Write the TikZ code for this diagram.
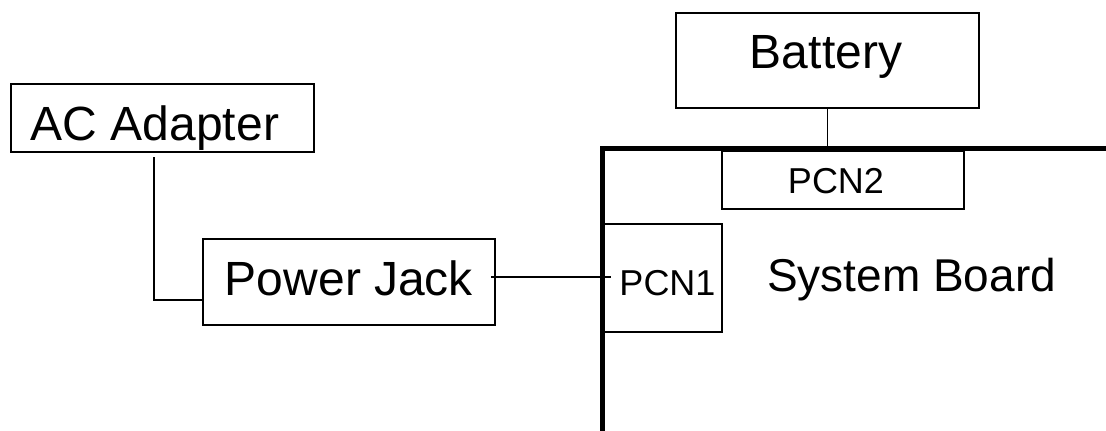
\documentclass[tikz,border=0pt]{standalone}
\usepackage{fontspec}
\setmainfont{Liberation Sans}
\usetikzlibrary{positioning}

\begin{document}
\begin{tikzpicture}[
    x=1pt, y=-1pt,
    boxnode/.style={draw, line width=1.2pt, inner sep=0pt, outer sep=0pt},
    bigtext/.style={inner sep=0pt, anchor=base, font=\fontsize{48}{56}\selectfont},
    midtext/.style={inner sep=0pt, anchor=base, font=\fontsize{46}{54}\selectfont},
    smalltext/.style={inner sep=0pt, anchor=base, font=\fontsize{36}{42}\selectfont},
    boardline/.style={line width=5pt},
    wire/.style={line width=1.2pt},
  ]
  \useasboundingbox (0,0) rectangle (1106,431);
  \node[boxnode, minimum width=303pt, minimum height=68pt]  (acadapter) at (162.5,118)  {};
  \node[bigtext]   (acadapterlabel)  at (155,140)            {AC Adapter};
  \node[boxnode, minimum width=292pt, minimum height=86pt]  (powerjack) at (349,282)    {};
  \node[bigtext]   (powerjacklabel)  at (349,295)            {Power Jack};
  \node[boxnode, minimum width=303pt, minimum height=95pt]  (battery)   at (827.5,60.5) {};
  \node[bigtext]   (batterylabel)    at (826,68)             {Battery};
  \draw[boardline] (602,440) -- (602,148) -- (1115,148);
  \coordinate      (boardcorner)     at (602,148);
  \node[boxnode, minimum width=242pt, minimum height=58pt]  (pcn2)      at (843,180)    {};
  \node[smalltext] (pcn2label)       at (836,193)            {PCN2};
  \node[boxnode, minimum width=121pt, minimum height=108pt] (pcn1)      at (661.5,278)  {};
  \node[smalltext] (pcn1label)       at (667.5,295)          {PCN1};
  \node[midtext]   (boardlabel)      at (911.5,291)          {System Board};
  \coordinate      (acfoot)          at (154,157);
  \draw[wire] (acfoot) |- ([yshift=-18pt]powerjack.west);
  \draw[wire] ([shift={(-4,-5)}]powerjack.east) -- ([shift={(10,-1)}]pcn1.west);
  \draw[wire] (battery.south) -- (battery.south |- boardcorner);
\end{tikzpicture}
\end{document}
